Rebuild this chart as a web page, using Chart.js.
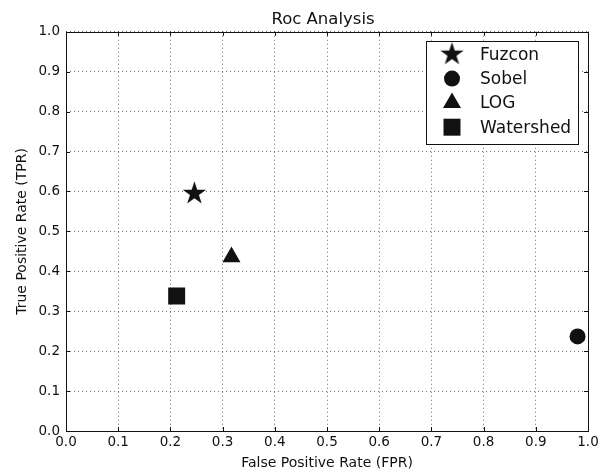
<!DOCTYPE html>
<html><head><meta charset="utf-8">
<script src="https://cdn.jsdelivr.net/npm/chart.js@4"></script>
<style>html,body{margin:0;padding:0;background:#fff}</style>
</head><body>
<canvas id="c" width="608" height="473" style="width:608px;height:473px;display:block"></canvas>
<script>
const methods = ['Fuzcon', 'Sobel', 'LOG', 'Watershed'];
const fprValues = [0.246, 0.980, 0.317, 0.212];
const tprValues = [0.595, 0.237, 0.436, 0.338];
const tickValues = [0.0, 0.1, 0.2, 0.3, 0.4, 0.5, 0.6, 0.7, 0.8, 0.9, 1.0];
const chartTitle = 'Roc Analysis';
const xTitle = 'False Positive Rate (FPR)';
const yTitle = 'True Positive Rate (TPR)';

const FONT = "'DejaVu Sans', sans-serif";
const INK = '#111';

function makeStar(R) {
  const s = Math.ceil(2 * R) + 2;
  const c = document.createElement('canvas');
  c.width = s; c.height = s;
  const g = c.getContext('2d');
  const cx = s / 2, cy = s / 2, r = R * 0.381966;
  g.beginPath();
  for (let i = 0; i < 10; i++) {
    const a = -Math.PI / 2 + i * Math.PI / 5;
    const rr = i % 2 === 0 ? R : r;
    const px = cx + rr * Math.cos(a), py = cy + rr * Math.sin(a);
    if (i === 0) g.moveTo(px, py); else g.lineTo(px, py);
  }
  g.closePath();
  g.fillStyle = INK;
  g.fill();
  return c;
}
const starImg = makeStar(12.3);

const styles = [
  { pointStyle: starImg, radius: 12 },
  { pointStyle: 'circle', radius: 8 },
  { pointStyle: 'triangle', radius: 10.4 },
  { pointStyle: 'rect', radius: 12 }
];

const datasets = methods.map((m, i) => ({
  label: m,
  data: [{ x: fprValues[i], y: tprValues[i] }],
  pointStyle: styles[i].pointStyle,
  pointRadius: styles[i].radius,
  pointHoverRadius: styles[i].radius,
  backgroundColor: INK,
  borderColor: INK,
  borderWidth: 0
}));

function drawMarker(ctx, style, r, x, y) {
  ctx.save();
  ctx.fillStyle = INK;
  if (style instanceof HTMLCanvasElement) {
    ctx.drawImage(style, x - style.width / 2, y - style.height / 2);
  } else if (style === 'circle') {
    ctx.beginPath(); ctx.arc(x, y, r, 0, Math.PI * 2); ctx.fill();
  } else if (style === 'triangle') {
    ctx.beginPath();
    for (let k = 0; k < 3; k++) {
      const a = -Math.PI / 2 + k * 2 * Math.PI / 3;
      const px = x + r * Math.cos(a), py = y + r * Math.sin(a);
      if (k === 0) ctx.moveTo(px, py); else ctx.lineTo(px, py);
    }
    ctx.closePath(); ctx.fill();
  } else if (style === 'rect') {
    const s = r / Math.SQRT2;
    ctx.fillRect(x - s, y - s, 2 * s, 2 * s);
  }
  ctx.restore();
}

const framePlugin = {
  id: 'frame',
  afterLayout(chart) {
    if (chart.titleBlock) {
      chart.titleBlock.left = chart.chartArea.left - 4;
      chart.titleBlock.right = chart.chartArea.right - 4;
    }
  },
  afterDatasetsDraw(chart) {
    const { ctx, chartArea: a, scales } = chart;
    ctx.save();
    ctx.strokeStyle = INK;
    ctx.lineWidth = 1;
    ctx.beginPath();
    tickValues.forEach(v => {
      const px = Math.round(scales.x.getPixelForValue(v)) + 0.5;
      ctx.moveTo(px, a.bottom); ctx.lineTo(px, a.bottom - 4);
      ctx.moveTo(px, a.top); ctx.lineTo(px, a.top + 4);
      const py = Math.round(scales.y.getPixelForValue(v)) + 0.5;
      ctx.moveTo(a.left, py); ctx.lineTo(a.left + 4, py);
      ctx.moveTo(a.right, py); ctx.lineTo(a.right - 4, py);
    });
    ctx.stroke();
    ctx.strokeRect(Math.round(a.left) + 0.5, Math.round(a.top) + 0.5,
      Math.round(a.right - a.left), Math.round(a.bottom - a.top));
    ctx.restore();
  },
  afterDraw(chart) {
    const { ctx, chartArea: a } = chart;
    const bx = a.right - 162, by = a.top + 9, bw = 152, bh = 103;
    ctx.save();
    ctx.fillStyle = '#fff';
    ctx.fillRect(bx, by, bw, bh);
    ctx.strokeStyle = INK;
    ctx.lineWidth = 1;
    ctx.strokeRect(Math.round(bx) + 0.5, Math.round(by) + 0.5, bw, bh);
    ctx.font = "17px " + FONT;
    ctx.textBaseline = 'middle';
    ctx.fillStyle = INK;
    methods.forEach((m, i) => {
      const y = by + 13.5 + i * 24.3;
      drawMarker(ctx, styles[i].pointStyle, styles[i].radius, bx + 26, y);
      ctx.fillText(m, bx + 54, y + 1);
    });
    ctx.restore();
  }
};

new Chart(document.getElementById('c'), {
  type: 'scatter',
  data: { datasets },
  options: {
    responsive: false,
    devicePixelRatio: 1,
    animation: false,
    layout: { padding: { left: 0, right: 20, top: 0, bottom: 0 } },
    plugins: {
      legend: { display: false },
      tooltip: { enabled: false },
      title: {
        display: true, text: chartTitle, color: INK,
        font: { family: FONT, size: 16.5, weight: 'normal' },
        padding: { top: 10.2, bottom: 1.8 }
      }
    },
    scales: {
      x: {
        type: 'linear', min: 0, max: 1,
        afterBuildTicks(s) { s.ticks = tickValues.map(v => ({ value: v })); },
        afterFit(s) { s.height = 42; },
        ticks: {
          color: INK, font: { family: FONT, size: 13.5 }, padding: 3,
          maxRotation: 0, autoSkip: false,
          callback: v => Number(v).toFixed(1)
        },
        grid: { color: 'rgba(0,0,0,0.55)', lineWidth: 1, drawTicks: false },
        border: { display: false, dash: [1, 3] },
        title: {
          display: true, text: xTitle, color: INK,
          font: { family: FONT, size: 14 }, padding: { top: 0, bottom: 1.6 }
        }
      },
      y: {
        type: 'linear', min: 0, max: 1,
        afterBuildTicks(s) { s.ticks = tickValues.map(v => ({ value: v })); },
        afterFit(s) { s.width = 66; },
        ticks: {
          color: INK, font: { family: FONT, size: 13.5 }, padding: 6,
          autoSkip: false,
          callback: v => Number(v).toFixed(1)
        },
        grid: { color: 'rgba(0,0,0,0.55)', lineWidth: 1, drawTicks: false },
        border: { display: false, dash: [1, 3] },
        title: {
          display: true, text: yTitle, color: INK,
          font: { family: FONT, size: 14 }, padding: { top: 13.6, bottom: 0 }
        }
      }
    }
  },
  plugins: [framePlugin]
});
</script>
</body></html>
